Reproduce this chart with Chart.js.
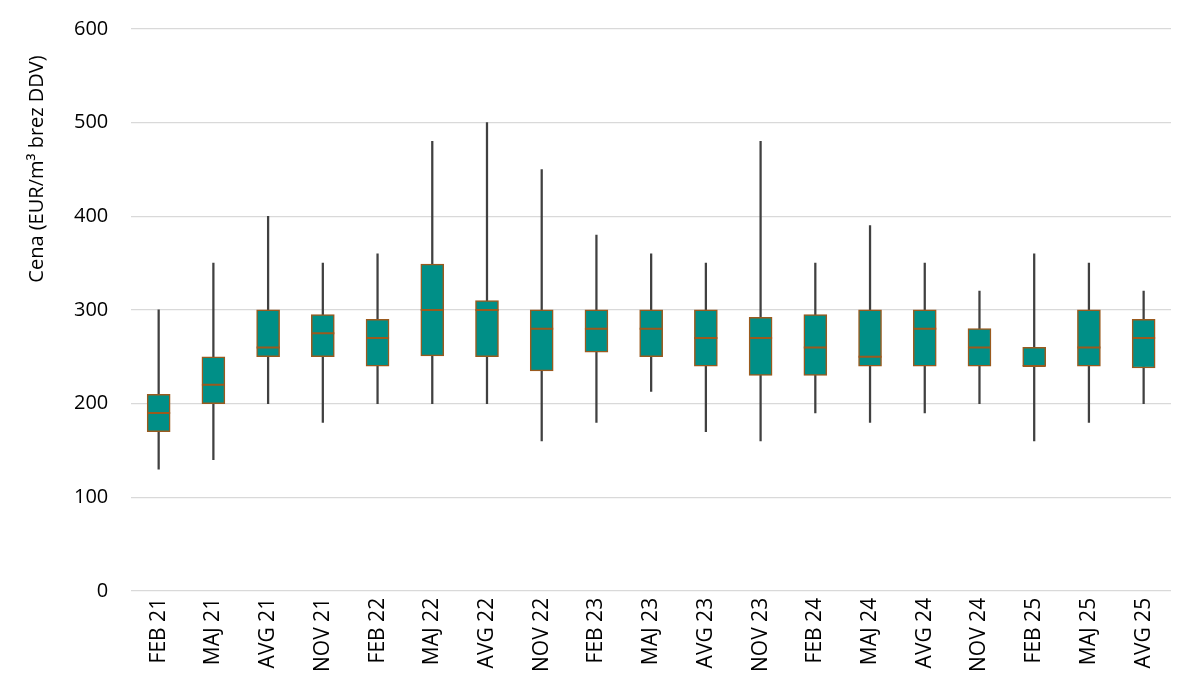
<!DOCTYPE html>
<html><head><meta charset="utf-8">
<script src="https://cdn.jsdelivr.net/npm/chart.js@4"></script>
<style>html,body{margin:0;padding:0;background:#fff}#wrap{width:1200px;height:696px}</style>
</head><body><div id="wrap"><canvas id="c" width="1200" height="696"></canvas></div>
<script>
const categories = ["FEB 21","MAJ 21","AVG 21","NOV 21","FEB 22","MAJ 22","AVG 22","NOV 22","FEB 23","MAJ 23","AVG 23","NOV 23","FEB 24","MAJ 24","AVG 24","NOV 24","FEB 25","MAJ 25","AVG 25"];
const minValues    = [130,140,200,180,200,200,200,160,180,213,170,160,190,180,190,200,160,180,200];
const q1Values     = [170,200,250,250,240,251,250,235,255,250,240,230,230,240,240,240,240,240,238];
const medianValues = [190,220,260,275,270,300,300,280,280,280,270,270,260,250,280,260,240,260,270];
const q3Values     = [210,250,300,295,290,349,310,300,300,300,300,292,295,300,300,280,260,300,290];
const maxValues    = [300,350,400,350,360,480,500,450,380,360,350,480,350,390,350,320,360,350,320];
const yMin = 0, yMax = 600, yStep = 100;
const yTitle = "Cena (EUR/m³ brez DDV)";

const TEAL = "#008f87", BROWN = "#9a5a1e", WHISK = "#404040";
const FONT = "'Open Sans', sans-serif";

// y-axis title, placed in the upper part of the left margin as in the original
const yTitlePlugin = {
  id: "yTitlePlugin",
  afterDraw(chart) {
    const ctx = chart.ctx, area = chart.chartArea;
    ctx.save();
    ctx.translate(37, area.top + 140);
    ctx.rotate(-Math.PI / 2);
    ctx.font = "20px " + FONT;
    ctx.fillStyle = "#000";
    ctx.textAlign = "center";
    ctx.textBaseline = "middle";
    ctx.fillText(yTitle, 0, 0);
    ctx.restore();
  }
};

new Chart(document.getElementById("c"), {
  type: "bar",
  data: {
    labels: categories,
    datasets: [
      {
        type: "line", label: "median", data: medianValues, showLine: false,
        pointStyle: "line", pointRadius: 11.5, pointHoverRadius: 11.5,
        pointBorderWidth: 2, borderColor: BROWN, pointBorderColor: BROWN, order: 0
      },
      {
        label: "box", data: categories.map((c, i) => [q1Values[i], q3Values[i]]),
        backgroundColor: TEAL, borderColor: BROWN, borderWidth: 1.5, borderSkipped: false,
        barThickness: 23, grouped: false, order: 1
      },
      {
        label: "whisker", data: categories.map((c, i) => [minValues[i], maxValues[i]]),
        backgroundColor: WHISK, borderWidth: 0, barThickness: 1.6, grouped: false, order: 2
      }
    ]
  },
  options: {
    responsive: false, animation: false,
    layout: { padding: { left: 51, right: 29, top: 29, bottom: 17 } },
    plugins: { legend: { display: false }, tooltip: { enabled: false } },
    scales: {
      x: {
        grid: { display: false, drawTicks: false }, border: { display: false },
        ticks: { color: "#000", font: { family: FONT, size: 21 }, minRotation: 90, maxRotation: 90, padding: 7, autoSkip: false }
      },
      y: {
        min: yMin, max: yMax,
        grid: { color: "#d9d9d9", lineWidth: 1.3, drawTicks: false },
        border: { display: false },
        ticks: { stepSize: yStep, color: "#000", font: { family: FONT, size: 20 }, padding: 23 },
        afterFit(scale) { scale.paddingTop = 12; scale.paddingBottom = 12; }
      }
    }
  },
  plugins: [yTitlePlugin]
});
</script></body></html>
